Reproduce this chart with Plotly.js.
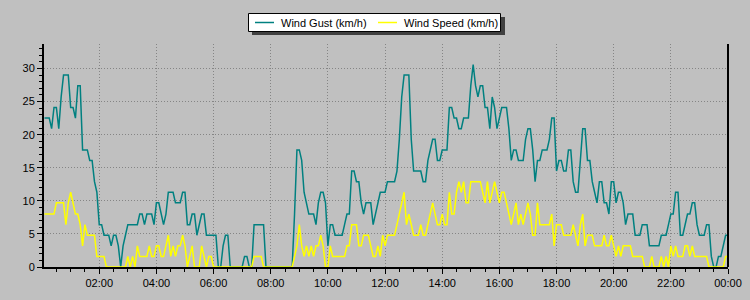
<!DOCTYPE html>
<html>
<head>
<meta charset="utf-8">
<script src="https://cdn.plot.ly/plotly-3.0.1.min.js"></script>
<style>html,body{margin:0;padding:0;background:#c0c0c0;}#chart{width:750px;height:300px;}</style>
</head>
<body>
<div id="chart"></div>
<script>
// Sampling: readings every 5 minutes starting 00:05
const startMinute = 5;
const stepMinutes = 5;

// Wind Gust (km/h), one row per hour
const windGust = [
 22.5,22.5,22.5,20.9,24.1,24.1,20.9,25.7,29,29,29,24.1,
 24.1,22.5,27.4,27.4,17.7,17.7,17.7,16.1,16.1,12.9,11.3,6.4,
 6.4,4.8,4.8,4.8,3.2,4.8,4.8,3.2,0,3.2,4.8,6.4,
 6.4,6.4,6.4,6.4,8,8,6.4,8,8,8,6.4,9.7,
 9.7,8,6.4,8,11.3,11.3,11.3,9.7,9.7,9.7,11.3,11.3,
 6.4,6.4,8,8,4.8,6.4,8,8,4.8,4.8,4.8,4.8,
 4.8,0,0,3.2,4.8,4.8,0,0,0,0,0,0,
 1.6,1.6,0,0,6.4,6.4,6.4,6.4,6.4,0,0,0,
 0,0,0,0,0,0,0,0,0,8,17.7,17.7,
 16.1,11.3,9.7,8,8,8,6.4,9.7,11.3,11.3,9.7,3.2,
 6.4,6.4,4.8,4.8,4.8,4.8,6.4,8,8,14.5,14.5,12.9,
 12.9,9.7,8,9.7,9.7,9.7,6.4,8,9.7,11.3,11.3,11.3,
 12.9,12.9,12.9,12.9,14.5,19.3,25.7,29,29,29,19.3,14.5,
 14.5,14.5,14.5,12.9,12.9,16.1,17.7,19.3,19.3,16.1,16.1,17.7,
 17.7,17.7,24.1,24.1,22.5,22.5,20.9,20.9,22.5,22.5,22.5,27.4,
 30.6,27.4,25.7,27.4,27.4,24.1,24.1,20.9,25.7,24.1,20.9,22.5,
 24.1,24.1,24.1,20.9,16.1,17.7,17.7,16.1,16.1,16.1,19.3,20.9,
 20.9,17.7,12.9,16.1,16.1,17.7,17.7,17.7,19.3,22.5,22.5,14.5,
 16.1,16.1,14.5,14.5,17.7,17.7,12.9,11.3,11.3,16.1,20.9,20.9,
 16.1,16.1,12.9,11.3,9.7,12.9,12.9,9.7,9.7,8,12.9,12.9,
 9.7,11.3,11.3,9.7,6.4,8,8,8,4.8,4.8,4.8,6.4,
 6.4,6.4,3.2,3.2,3.2,3.2,3.2,4.8,4.8,4.8,6.4,8,
 8,11.3,11.3,4.8,4.8,6.4,8,8,9.7,9.7,6.4,4.8,
 4.8,4.8,6.4,6.4,1.6,0,0,1.6,1.6,3.2,4.8,4.8
];

// Wind Speed (km/h), one row per hour
const windSpeed = [
 8,8,8,8,8,9.7,9.7,9.7,9.7,6.4,9.7,11.3,
 9.7,8,8,6.4,3.2,6.4,4.8,4.8,4.8,4.8,1.6,1.6,
 1.6,1.6,0,0,0,0,0,0,0,0,0,1.6,
 0,1.6,0,3.2,1.6,1.6,1.6,1.6,3.2,1.6,1.6,3.2,
 3.2,1.6,1.6,3.2,4.8,1.6,3.2,1.6,3.2,3.2,4.8,3.2,
 0,1.6,3.2,0,0,0,3.2,1.6,0,1.6,1.6,0,
 0,0,0,0,0,0,0,0,0,0,0,0,
 0,0,0,0,1.6,1.6,1.6,1.6,0,0,0,0,
 0,0,0,0,0,0,0,0,0,1.6,3.2,6.4,
 3.2,1.6,3.2,1.6,3.2,1.6,3.2,3.2,4.8,3.2,0,0,
 3.2,1.6,1.6,1.6,1.6,1.6,1.6,3.2,3.2,6.4,6.4,6.4,
 3.2,3.2,4.8,4.8,4.8,3.2,1.6,1.6,3.2,1.6,4.8,3.2,
 4.8,4.8,4.8,4.8,6.4,8,9.7,11.3,6.4,8,6.4,4.8,
 4.8,4.8,6.4,4.8,4.8,6.4,8,9.7,8,6.4,6.4,8,
 6.4,6.4,11.3,8,8,11.3,12.9,11.3,12.9,9.7,9.7,12.9,
 12.9,12.9,12.9,12.9,11.3,9.7,12.9,9.7,11.3,12.9,11.3,9.7,
 11.3,11.3,9.7,8,6.4,8,9.7,6.4,8,6.4,8,9.7,
 8,4.8,4.8,9.7,6.4,6.4,6.4,6.4,6.4,8,3.2,6.4,
 6.4,6.4,4.8,4.8,4.8,4.8,6.4,4.8,3.2,6.4,8,3.2,
 4.8,4.8,4.8,3.2,3.2,3.2,3.2,4.8,3.2,3.2,4.8,3.2,
 1.6,3.2,1.6,3.2,3.2,3.2,3.2,1.6,1.6,1.6,1.6,1.6,
 0,0,0,1.6,0,0,0,1.6,0,1.6,0,3.2,
 1.6,3.2,1.6,1.6,1.6,3.2,3.2,1.6,3.2,1.6,1.6,1.6,
 1.6,1.6,1.6,0,0,0,0,0,0,0,1.6,1.6
];

const seriesNames = ['Wind Gust (km/h)', 'Wind Speed (km/h)'];
const seriesColors = ['#008080', '#ffff00'];

function pad(n){ return String(n).padStart(2,'0'); }
const times = windGust.map((_, i) => {
  const m = startMinute + stepMinutes * i;
  const day = 1 + Math.floor(m / 1440);
  const mm = m % 1440;
  return '2000-01-' + pad(day) + ' ' + pad(Math.floor(mm / 60)) + ':' + pad(mm % 60) + ':00';
});

const traces = [
  {x: times, y: windGust, type: 'scatter', mode: 'lines', name: seriesNames[0],
   line: {color: seriesColors[0], width: 1.5}},
  {x: times, y: windSpeed, type: 'scatter', mode: 'lines', name: seriesNames[1],
   line: {color: seriesColors[1], width: 1.5}}
];

// Legend box drawn in page pixels (converted to paper coordinates)
const M = {l: 44, r: 22, t: 44, b: 33};
const PW = 750 - M.l - M.r, PH = 300 - M.t - M.b;
const px = v => (v - M.l) / PW;
const py = v => (300 - M.b - v) / PH;

const legendShapes = [
  {type: 'rect', xref: 'paper', yref: 'paper', x0: px(252), x1: px(505), y0: py(17), y1: py(35),
   fillcolor: '#404040', line: {width: 0}},
  {type: 'rect', xref: 'paper', yref: 'paper', x0: px(248.5), x1: px(500.5), y0: py(13.5), y1: py(31.5),
   fillcolor: '#ffffff', line: {color: '#000', width: 1}},
  {type: 'line', xref: 'paper', yref: 'paper', x0: px(255), x1: px(274), y0: py(22.5), y1: py(22.5),
   line: {color: seriesColors[0], width: 1.5}},
  {type: 'line', xref: 'paper', yref: 'paper', x0: px(378), x1: px(397), y0: py(22.5), y1: py(22.5),
   line: {color: seriesColors[1], width: 1.5}}
];
const legendTexts = [
  {text: seriesNames[0], xref: 'paper', yref: 'paper', x: px(279), y: py(22.5),
   xanchor: 'left', yanchor: 'middle', showarrow: false, font: {size: 11, color: '#000'}},
  {text: seriesNames[1], xref: 'paper', yref: 'paper', x: px(402), y: py(22.5),
   xanchor: 'left', yanchor: 'middle', showarrow: false, font: {size: 11, color: '#000'}}
];

const layout = {
  width: 750, height: 300,
  paper_bgcolor: '#c0c0c0', plot_bgcolor: '#c0c0c0',
  margin: M,
  font: {family: 'Liberation Sans, Arial, sans-serif', size: 11, color: '#000'},
  showlegend: false,
  xaxis: {
    type: 'date',
    range: ['2000-01-01 00:04:00', '2000-01-02 00:00:00'],
    tick0: '2000-01-01 00:00:00', dtick: 7200000, tickformat: '%H:%M',
    showgrid: true, gridcolor: '#858585', griddash: '1px,2px', gridwidth: 1,
    showline: true, linecolor: '#000', linewidth: 2,
    ticks: 'outside', ticklen: 5, tickcolor: '#000', tickwidth: 1,
    minor: {ticks: 'outside', dtick: 1800000, ticklen: 3, tickcolor: '#000', showgrid: false},
    zeroline: false, fixedrange: true
  },
  yaxis: {
    range: [0, 33.7], tick0: 0, dtick: 5,
    showgrid: true, gridcolor: '#858585', griddash: '1px,2px', gridwidth: 1,
    showline: true, linecolor: '#000', linewidth: 2,
    ticks: 'outside', ticklen: 5, tickcolor: '#000', tickwidth: 1,
    minor: {ticks: 'outside', dtick: 1, ticklen: 3, tickcolor: '#000', showgrid: false},
    zeroline: false, fixedrange: true
  },
  shapes: [
    {type: 'line', xref: 'paper', yref: 'paper', x0: 1, x1: 1, y0: 0, y1: 1,
     line: {color: '#000', width: 2}}
  ].concat(legendShapes),
  annotations: legendTexts
};

Plotly.newPlot('chart', traces, layout, {displayModeBar: false, staticPlot: true});
</script>
</body>
</html>
